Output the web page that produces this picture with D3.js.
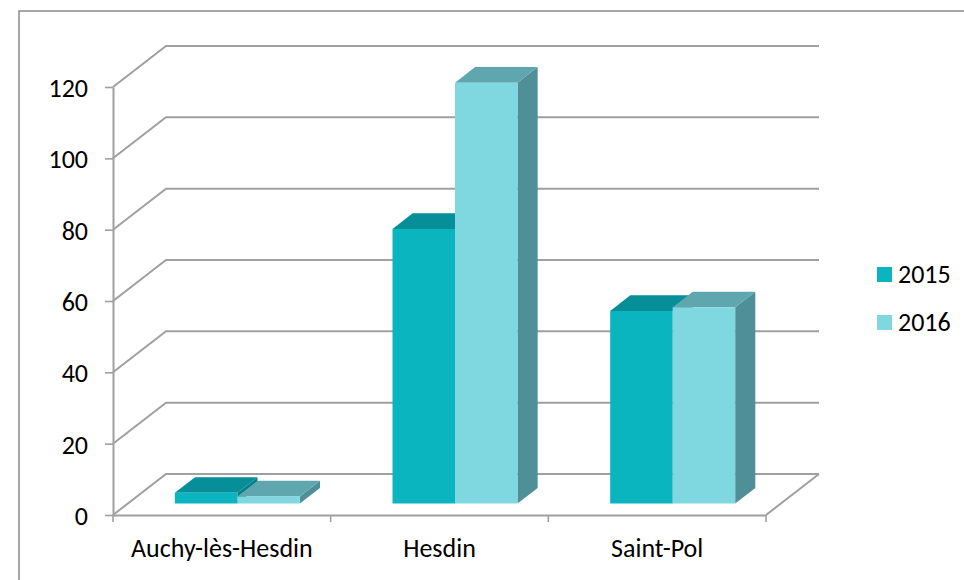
<!DOCTYPE html>
<html>
<head>
<meta charset="utf-8">
<script src="https://cdn.jsdelivr.net/npm/d3@7"></script>
<style>
html,body{margin:0;padding:0;background:#fff;}
text{font-family:Carlito,Lato,"Open Sans",sans-serif;fill:#000;}
</style>
</head>
<body>
<script>
const WIDTH = 964;
const HEIGHT = 580;

const categories = ['Auchy-lès-Hesdin','Hesdin','Saint-Pol'];
const years = ['2015','2016'];
const values2015 = [3,77,54];
const values2016 = [2,118,55];
const yTicks = [0,20,40,60,80,100,120];

const frontColors = ['#0bb5c0','#7fd8e0'];
const topColors = ['#068f99','#5fa6ae'];
const sideColors = ['#05808a','#4f8f98'];
const GRID = '#a0a0a0';
const FONT = '26px';

// the floor goes back by this much on screen
const DEPTH_X = 53;
const DEPTH_Y = -41;

const x = d3.scaleBand().domain(categories).range([113,766]);
const y = d3.scaleLinear().domain([0,120]).range([515,87]);

// px,py: screen point for a position along x, a value, and a depth from 0 (front) to 1 (back wall)
const pt = (px,val,d) => [px + d*DEPTH_X, y(val) + d*DEPTH_Y];
const poly = pts => pts.map(p => p.join(',')).join(' ');

const svg = d3.select('body').append('svg')
	.attr('width',WIDTH)
	.attr('height',HEIGHT)
	.style('display','block');

svg.append('rect')
	.attr('x',19).attr('y',11)
	.attr('width',WIDTH-19+5).attr('height',HEIGHT-11+5)
	.attr('fill','#fff').attr('stroke','#8a8a8a').attr('stroke-width',1.5);

const grid = svg.append('g').attr('fill','none').attr('stroke',GRID).attr('stroke-width',2);
yTicks.forEach(t => {
	grid.append('polyline')
		.attr('points',poly([pt(x.range()[0],t,0),pt(x.range()[0],t,1),pt(x.range()[1],t,1)]));
});
grid.append('line')
	.attr('x1',x.range()[1]).attr('y1',y(0))
	.attr('x2',x.range()[1]+DEPTH_X).attr('y2',y(0)+DEPTH_Y);

const yAxis = d3.axisLeft(y).tickValues(yTicks).tickSize(8).tickSizeOuter(0).tickPadding(17);
const yG = svg.append('g').attr('transform','translate(113,0)').call(yAxis);
const xAxis = d3.axisBottom(x).tickSize(0).tickPadding(24);
const xG = svg.append('g').attr('transform','translate(0,515)').call(xAxis);
[yG,xG].forEach(g => {
	g.selectAll('path.domain').attr('stroke',GRID).attr('stroke-width',2);
	g.selectAll('line').attr('stroke',GRID).attr('stroke-width',1.6);
	g.selectAll('text').style('font-size',FONT);
});
yG.selectAll('text').attr('dy','0.36em');
xG.selectAll('text').attr('dy','0.71em');

xG.selectAll('line.sep').data(x.domain().concat(['end'])).enter().append('line')
	.attr('class','sep')
	.attr('x1',(d,i)=>x.range()[0]+i*x.step()).attr('x2',(d,i)=>x.range()[0]+i*x.step())
	.attr('y1',0).attr('y2',7)
	.attr('stroke',GRID).attr('stroke-width',1.6);

// bars stand on the floor between these depths
const D0 = 0.28;
const D1 = 0.66;
const BAR = 62.5;

const bars = [];
categories.forEach((c,i) => {
	bars.push({s:0,x0:x(c)+47,v:values2015[i]});
	bars.push({s:1,x0:x(c)+47+BAR,v:values2016[i]});
});

const gb = svg.append('g');
bars.forEach(b => {
	const a = b.x0, e = b.x0+BAR;
	gb.append('polygon').attr('fill',sideColors[b.s])
		.attr('points',poly([pt(e,0,D0),pt(e,0,D1),pt(e,b.v,D1),pt(e,b.v,D0)]));
	gb.append('polygon').attr('fill',topColors[b.s])
		.attr('points',poly([pt(a,b.v,D0),pt(a,b.v,D1),pt(e,b.v,D1),pt(e,b.v,D0)]));
	gb.append('polygon').attr('fill',frontColors[b.s])
		.attr('points',poly([pt(a,0,D0),pt(a,b.v,D0),pt(e,b.v,D0),pt(e,0,D0)]));
});

const legend = d3.scaleBand().domain(years).range([250,346]);
const lg = svg.append('g');
years.forEach((yr,i) => {
	lg.append('rect').attr('x',877).attr('y',legend(yr)+17).attr('width',15).attr('height',15).attr('fill',frontColors[i]);
	lg.append('text').attr('x',898).attr('y',legend(yr)+33).style('font-size',FONT).text(yr);
});
</script>
</body>
</html>
